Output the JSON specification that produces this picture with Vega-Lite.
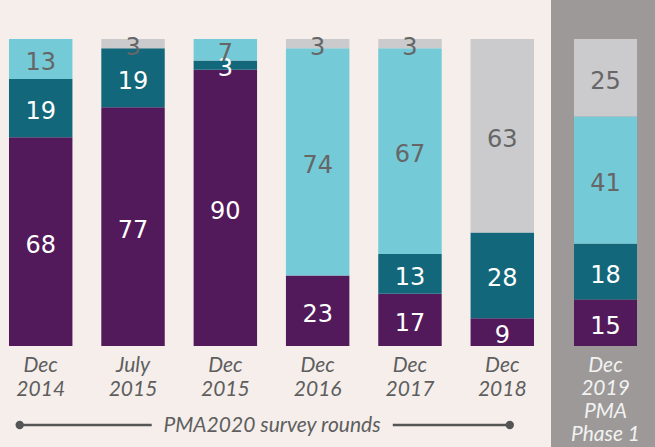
{
  "$schema": "https://vega.github.io/schema/vega-lite/v6.json",
  "background": "#f5eeeb",
  "padding": 0,
  "autosize": {"type": "pad"},
  "spacing": 8,
  "config": {"view": {"stroke": null}},
  "datasets": {
    "rounds": [
      {"round": "Dec|2014", "cat": "Category 1", "k": 1, "pct": 68},
      {"round": "Dec|2014", "cat": "Category 2", "k": 2, "pct": 19},
      {"round": "Dec|2014", "cat": "Category 3", "k": 3, "pct": 13},
      {"round": "July|2015", "cat": "Category 1", "k": 1, "pct": 77},
      {"round": "July|2015", "cat": "Category 2", "k": 2, "pct": 19},
      {"round": "July|2015", "cat": "Category 4", "k": 4, "pct": 3},
      {"round": "Dec|2015", "cat": "Category 1", "k": 1, "pct": 90},
      {"round": "Dec|2015", "cat": "Category 2", "k": 2, "pct": 3},
      {"round": "Dec|2015", "cat": "Category 3", "k": 3, "pct": 7},
      {"round": "Dec|2016", "cat": "Category 1", "k": 1, "pct": 23},
      {"round": "Dec|2016", "cat": "Category 3", "k": 3, "pct": 74},
      {"round": "Dec|2016", "cat": "Category 4", "k": 4, "pct": 3},
      {"round": "Dec|2017", "cat": "Category 1", "k": 1, "pct": 17},
      {"round": "Dec|2017", "cat": "Category 2", "k": 2, "pct": 13},
      {"round": "Dec|2017", "cat": "Category 3", "k": 3, "pct": 67},
      {"round": "Dec|2017", "cat": "Category 4", "k": 4, "pct": 3},
      {"round": "Dec|2018", "cat": "Category 1", "k": 1, "pct": 9},
      {"round": "Dec|2018", "cat": "Category 2", "k": 2, "pct": 28},
      {"round": "Dec|2018", "cat": "Category 4", "k": 4, "pct": 63}
    ],
    "phase1": [
      {"round": "Dec|2019|PMA|Phase 1", "cat": "Category 1", "k": 1, "pct": 15},
      {"round": "Dec|2019|PMA|Phase 1", "cat": "Category 2", "k": 2, "pct": 18},
      {"round": "Dec|2019|PMA|Phase 1", "cat": "Category 3", "k": 3, "pct": 41},
      {"round": "Dec|2019|PMA|Phase 1", "cat": "Category 4", "k": 4, "pct": 25}
    ]
  },
  "hconcat": [
    {
      "width": 543,
      "height": 447,
      "data": {"name": "rounds"},
      "transform": [
        {"stack": "pct", "groupby": ["round"], "sort": [{"field": "k"}], "offset": "normalize", "as": ["y0", "y1"]},
        {"calculate": "(datum.y0 + datum.y1) / 2", "as": "ymid"}
      ],
      "encoding": {
        "x": {
          "field": "round", "type": "nominal", "sort": null,
          "scale": {"paddingInner": 0.3128, "paddingOuter": 0.0974},
          "axis": {
            "orient": "bottom", "offset": -101, "domain": false, "ticks": false,
            "labelAngle": 0, "labelExpr": "split(datum.value, '|')",
            "labelFont": "Lato", "labelFontStyle": "italic", "labelFontSize": 21,
            "labelLineHeight": 24, "labelColor": "#5e5e5e", "labelPadding": 8,
            "title": "PMA2020 survey rounds", "titleFont": "Lato", "titleFontStyle": "italic",
            "titleFontWeight": "normal", "titleFontSize": 21, "titleColor": "#5e5e5e", "titlePadding": 15
          }
        }
      },
      "layer": [
        {
          "mark": {"type": "bar"},
          "encoding": {
            "y": {"field": "y0", "type": "quantitative", "scale": {"domain": [-0.32899, 1.12704], "nice": false, "zero": false}, "axis": null},
            "y2": {"field": "y1"},
            "color": {"field": "cat", "type": "nominal", "scale": {"domain": ["Category 1", "Category 2", "Category 3", "Category 4"], "range": ["#521a5b", "#13677b", "#74cad7", "#cbcacc"]}, "legend": null}
          }
        },
        {
          "mark": {"type": "text", "font": "DejaVu Sans", "fontSize": 24, "baseline": "middle", "dy": 4},
          "encoding": {
            "y": {"field": "ymid", "type": "quantitative"},
            "text": {"field": "pct", "type": "quantitative"},
            "color": {"condition": {"test": "datum.k <= 2", "value": "#ffffff"}, "value": "#666666"}
          }
        },
        {
          "data": {"values": [{}]},
          "mark": {"type": "rule", "stroke": "#555555", "strokeWidth": 2.5, "xOffset": -21, "x2Offset": 111},
          "encoding": {"x": {"datum": "Dec|2014"}, "x2": {"datum": "Dec|2014"}, "y": {"datum": -0.2573}}
        },
        {
          "data": {"values": [{}]},
          "mark": {"type": "rule", "stroke": "#555555", "strokeWidth": 2.5, "xOffset": -109.5, "x2Offset": 7.5},
          "encoding": {"x": {"datum": "Dec|2018"}, "x2": {"datum": "Dec|2018"}, "y": {"datum": -0.2573}}
        },
        {
          "data": {"values": [{}]},
          "mark": {"type": "point", "filled": true, "opacity": 1, "size": 70, "color": "#555555", "xOffset": -21},
          "encoding": {"x": {"datum": "Dec|2014"}, "y": {"datum": -0.2573}}
        },
        {
          "data": {"values": [{}]},
          "mark": {"type": "point", "filled": true, "opacity": 1, "size": 70, "color": "#555555", "xOffset": 7.5},
          "encoding": {"x": {"datum": "Dec|2018"}, "y": {"datum": -0.2573}}
        }
      ]
    },
    {
      "width": 104,
      "height": 447,
      "view": {"fill": "#9c9998", "stroke": null},
      "data": {"name": "phase1"},
      "transform": [
        {"stack": "pct", "groupby": ["round"], "sort": [{"field": "k"}], "offset": "normalize", "as": ["y0", "y1"]},
        {"calculate": "(datum.y0 + datum.y1) / 2", "as": "ymid"}
      ],
      "encoding": {
        "x": {
          "field": "round", "type": "nominal", "sort": null,
          "scale": {"paddingInner": 0, "paddingOuter": 0.3254, "align": 0.561},
          "axis": {
            "orient": "bottom", "offset": -101, "domain": false, "ticks": false,
            "labelAngle": 0, "labelExpr": "split(datum.value, '|')",
            "labelFont": "Lato", "labelFontStyle": "italic", "labelFontSize": 21,
            "labelLineHeight": 23, "labelColor": "#f2f2f2", "labelPadding": 8,
            "title": null
          }
        }
      },
      "layer": [
        {
          "mark": {"type": "bar"},
          "encoding": {
            "y": {"field": "y0", "type": "quantitative", "scale": {"domain": [-0.32899, 1.12704], "nice": false, "zero": false}, "axis": null},
            "y2": {"field": "y1"},
            "color": {"field": "cat", "type": "nominal", "scale": {"domain": ["Category 1", "Category 2", "Category 3", "Category 4"], "range": ["#521a5b", "#13677b", "#74cad7", "#cbcacc"]}, "legend": null}
          }
        },
        {
          "mark": {"type": "text", "font": "DejaVu Sans", "fontSize": 24, "baseline": "middle", "dy": 4},
          "encoding": {
            "y": {"field": "ymid", "type": "quantitative"},
            "text": {"field": "pct", "type": "quantitative"},
            "color": {"condition": {"test": "datum.k <= 2", "value": "#ffffff"}, "value": "#666666"}
          }
        }
      ]
    }
  ]
}
